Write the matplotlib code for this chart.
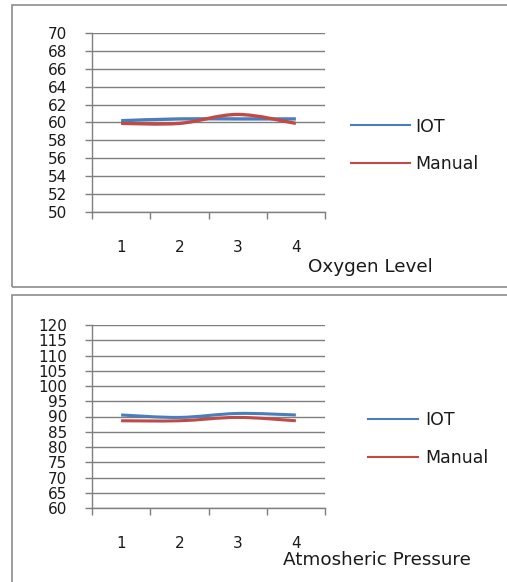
import matplotlib
matplotlib.use("Agg")
import matplotlib.pyplot as plt
from matplotlib.path import Path
from matplotlib.patches import PathPatch, Rectangle
from matplotlib.lines import Line2D
import numpy as np

plt.rcParams["font.family"] = ["DejaVu Sans"]

categories = [1, 2, 3, 4]

oxygen_iot = [60.2, 60.4, 60.4, 60.4]
oxygen_manual = [59.9, 59.9, 60.9, 59.9]

pressure_iot = [90.5, 89.7, 91.0, 90.5]
pressure_manual = [88.6, 88.6, 89.7, 88.6]

BLUE = "#4a7ebb"
RED = "#be4b48"
GRID = "#7f7f7f"
TXT = "#1a1a1a"


def smooth_path(x, y):
    # bezier curve through the points, like excel's smoothed line
    pts = np.column_stack([x, y]).astype(float)
    ext = np.vstack([pts[0], pts, pts[-1]])
    verts = [pts[0]]
    codes = [Path.MOVETO]
    for i in range(len(pts) - 1):
        p0, p1, p2, p3 = ext[i], ext[i + 1], ext[i + 2], ext[i + 3]
        verts += [p1 + (p2 - p0) / 6, p2 - (p3 - p1) / 6, p2]
        codes += [Path.CURVE4] * 3
    return Path(verts, codes)


def draw_panel(ax, iot, manual, yticks, title, lw, title_x, title_y):
    for vals, col in [(iot, BLUE), (manual, RED)]:
        patch = PathPatch(smooth_path(categories, vals), facecolor="none",
                          edgecolor=col, lw=lw, capstyle="butt")
        ax.add_patch(patch)
    ax.set_xlim(0.5, 4.5)
    ax.set_ylim(yticks[0], yticks[-1])
    ax.set_yticks(yticks)
    ax.set_xticks(np.arange(0.5, 5, 1))
    ax.set_xticklabels([])
    ax.set_xticks(categories, minor=True)
    ax.set_xticklabels([str(c) for c in categories], minor=True)
    ax.tick_params(axis="x", which="minor", length=0, pad=20, labelsize=11,
                   labelcolor=TXT)
    ax.tick_params(axis="x", which="major", length=5, color=GRID, width=1)
    ax.tick_params(axis="y", length=5, color=GRID, width=1, pad=13,
                   labelsize=11, labelcolor=TXT)
    ax.grid(axis="y", color=GRID, lw=1)
    ax.set_axisbelow(True)
    for s in ["top", "right"]:
        ax.spines[s].set_visible(False)
    for s in ["left", "bottom"]:
        ax.spines[s].set_color(GRID)
        ax.spines[s].set_linewidth(1)
    ax.text(title_x, title_y, title, transform=ax.transAxes, fontsize=13.2,
            va="center", ha="left", color=TXT)


fig = plt.figure(figsize=(5.07, 5.82), dpi=100)

# panel borders
fig.patches.append(Rectangle((12 / 507, 1 - 287 / 582), 500 / 507, 282 / 582,
                             transform=fig.transFigure, fill=False,
                             edgecolor="#8c8c8c", lw=1.2))
fig.patches.append(Rectangle((12 / 507, -0.01), 500 / 507, 1 - 295 / 582 + 0.01,
                             transform=fig.transFigure, fill=False,
                             edgecolor="#8c8c8c", lw=1.2))

ax1 = fig.add_axes([92 / 507, 1 - 212 / 582, 233 / 507, 179 / 582])
draw_panel(ax1, oxygen_iot, oxygen_manual, list(range(50, 71, 2)),
           "Oxygen Level", 2.4, (308 - 92) / 233, -(267 - 212) / 179)

ax2 = fig.add_axes([92 / 507, 1 - 508 / 582, 233 / 507, 183 / 582])
draw_panel(ax2, pressure_iot, pressure_manual, list(range(60, 121, 5)),
           "Atmosheric Pressure", 2.2, (283 - 92) / 233, -(560 - 508) / 183)

handles = [Line2D([], [], color=BLUE, lw=1.5), Line2D([], [], color=RED, lw=1.5)]
ax1.legend(handles, ["IOT", "Manual"], loc="center left",
           bbox_to_anchor=((351 - 92) / 233, (212 - 145.5) / 179),
           frameon=False, handlelength=3.4, handletextpad=0.3,
           labelspacing=1.15, fontsize=12.5, borderaxespad=0, borderpad=0,
           labelcolor=TXT)
ax2.legend(handles, ["IOT", "Manual"], loc="center left",
           bbox_to_anchor=((368 - 92) / 233, (508 - 439) / 183),
           frameon=False, handlelength=2.9, handletextpad=0.4,
           labelspacing=1.15, fontsize=12.5, borderaxespad=0, borderpad=0,
           labelcolor=TXT)

fig.savefig("out.png", dpi=100)
